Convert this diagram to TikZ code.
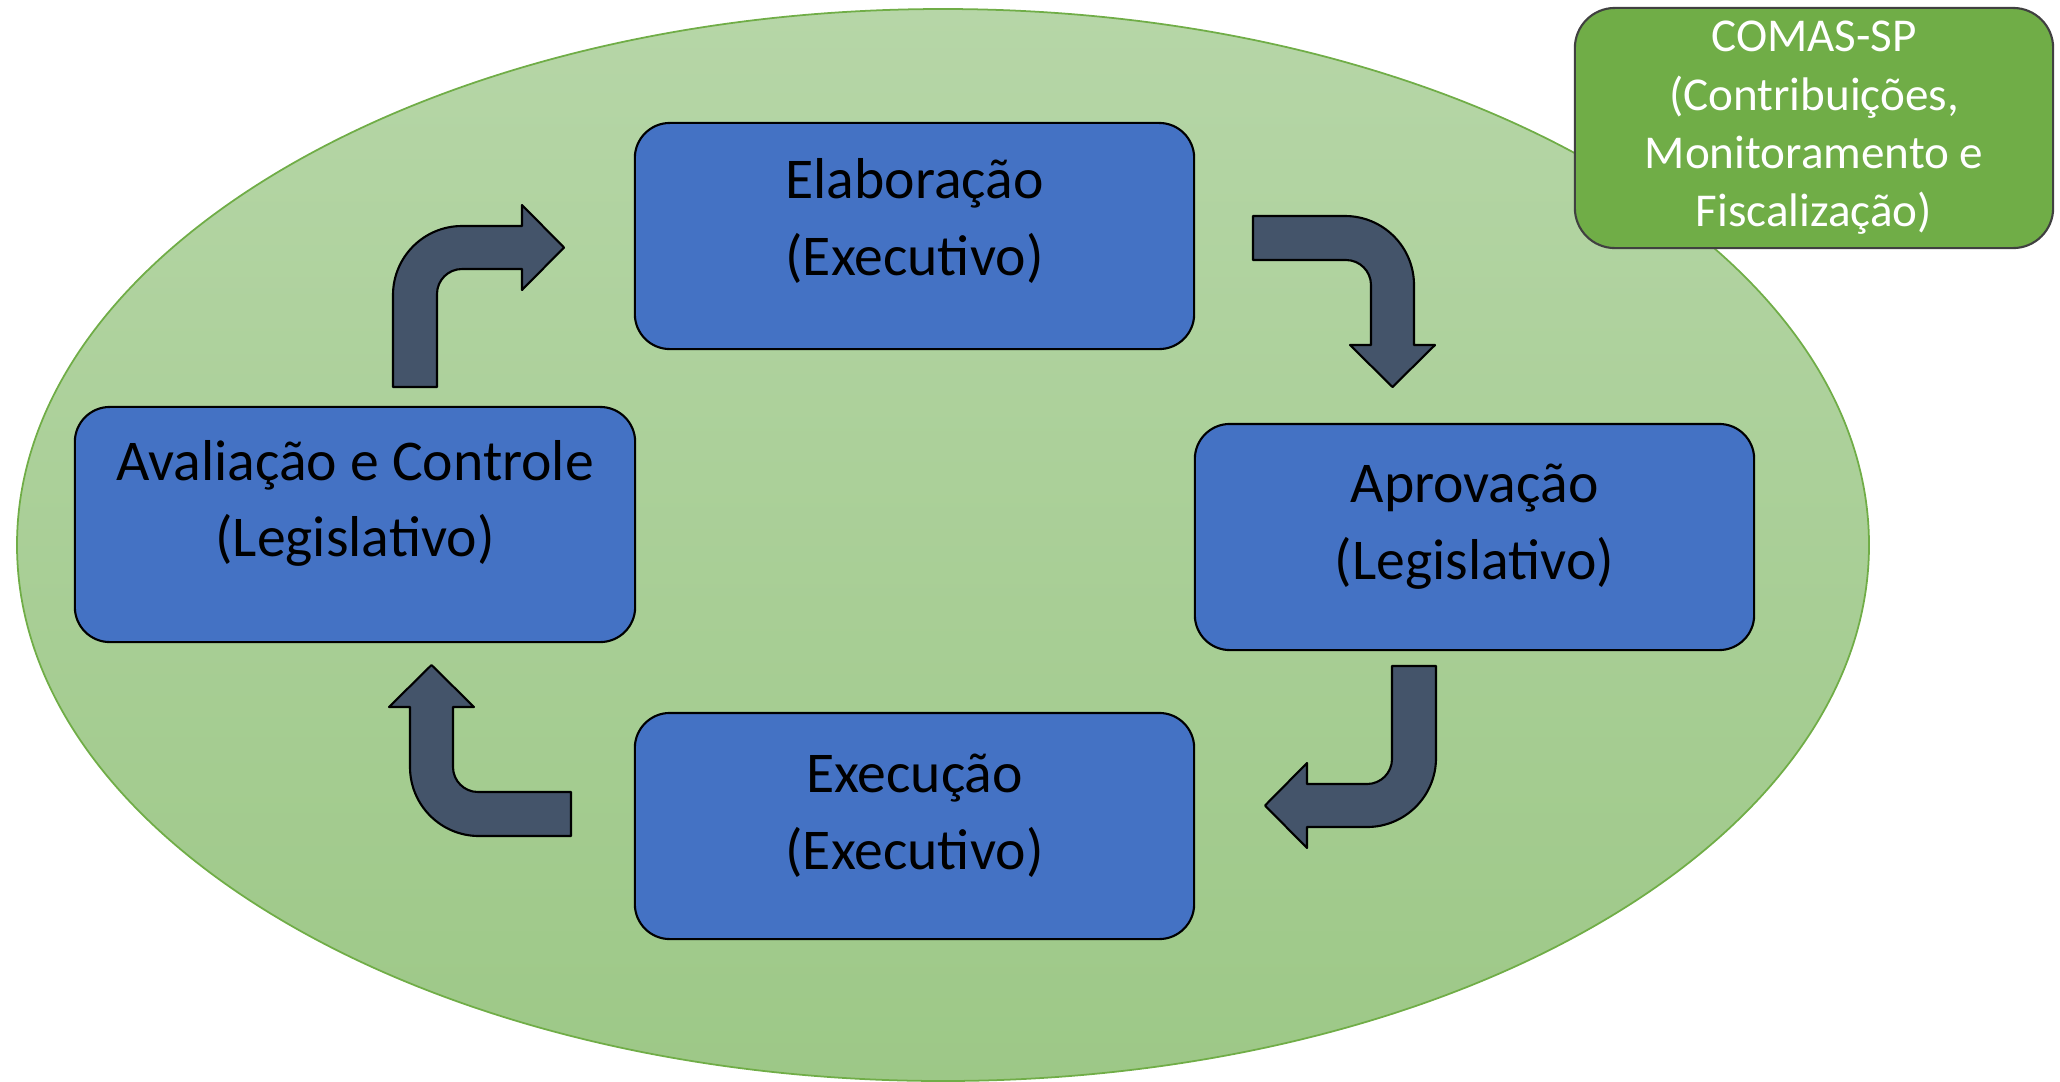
\documentclass[tikz,border=0pt]{standalone}
\usepackage{fontspec}
\setmainfont{Carlito}
\usepackage{xcolor}
\usepackage{tikz}

\definecolor{ovaltop}{RGB}{182,214,167}
\definecolor{ovalbot}{RGB}{157,200,135}
\definecolor{ovalline}{RGB}{112,173,71}
\definecolor{phaseblue}{RGB}{68,114,196}
\definecolor{arrowgrey}{RGB}{68,84,106}
\definecolor{comasgreen}{RGB}{112,173,71}

\begin{document}
\begin{tikzpicture}[x=0.01cm, y=0.01cm,
    phase/.style={draw=black, line width=0.6pt, fill=phaseblue, rounded corners=0.35cm, minimum width=5.59cm, minimum height=2.26cm},
    phasetxt/.style={align=center, inner sep=0pt, font=\fontsize{16.4}{21.8}\selectfont},
    arrowshape/.style={draw=black, line width=0.6pt, fill=arrowgrey, line join=round},
    bentarrow/.pic={
        \draw[arrowshape] (0,0) -- (0,92) arc[start angle=180, end angle=90, radius=69] -- (129,161) -- (129,182) -- (171,139.5) -- (129,97) -- (129,118) -- (69,118) arc[start angle=90, end angle=180, radius=25] -- (44,0) -- cycle;
    }]
    \useasboundingbox (0,0) rectangle (2060,-1081);

    % Background oval
    \shade[top color=ovaltop, bottom color=ovalbot] (943,-545) ellipse[x radius=926, y radius=536];
    \draw[ovalline, line width=0.5pt] (943,-545) ellipse[x radius=926, y radius=536];

    % Phases of the cycle
    \node[phase] (elab) at (914.5,-236) {};
    \node[phasetxt] at ([yshift=0.15cm]elab.center) {Elaboração\\(Executivo)};

    \node[phase] (aprov) at (1474.5,-537) {};
    \node[phasetxt] at ([yshift=0.1cm]aprov.center) {Aprovação\\(Legislativo)};

    \node[phase] (exec) at (914.5,-826) {};
    \node[phasetxt] at ([yshift=0.1cm]exec.center) {Execução\\(Executivo)};

    \node[phase, minimum width=5.6cm, minimum height=2.35cm] (aval) at (355,-524.5) {};
    \node[phasetxt] at ([yshift=0.21cm]aval.center) {Avaliação e Controle\\(Legislativo)};

    % Bent arrows between phases
    \pic at (393,-387) {bentarrow};
    \pic[rotate=-90] at (1253,-216) {bentarrow};
    \pic[rotate=180] at (1436,-666) {bentarrow};
    \pic[rotate=90] at (571,-836) {bentarrow};

    % COMAS-SP (top right)
    \node[draw=black!75, line width=0.6pt, fill=comasgreen, rounded corners=0.4cm, minimum width=4.78cm, minimum height=2.4cm, align=center, text=white, font=\fontsize{13.4}{16.6}\selectfont] (comas) at (1814,-128) {COMAS-SP\\(Contribuições,\\Monitoramento e\\Fiscalização)};
\end{tikzpicture}
\end{document}
